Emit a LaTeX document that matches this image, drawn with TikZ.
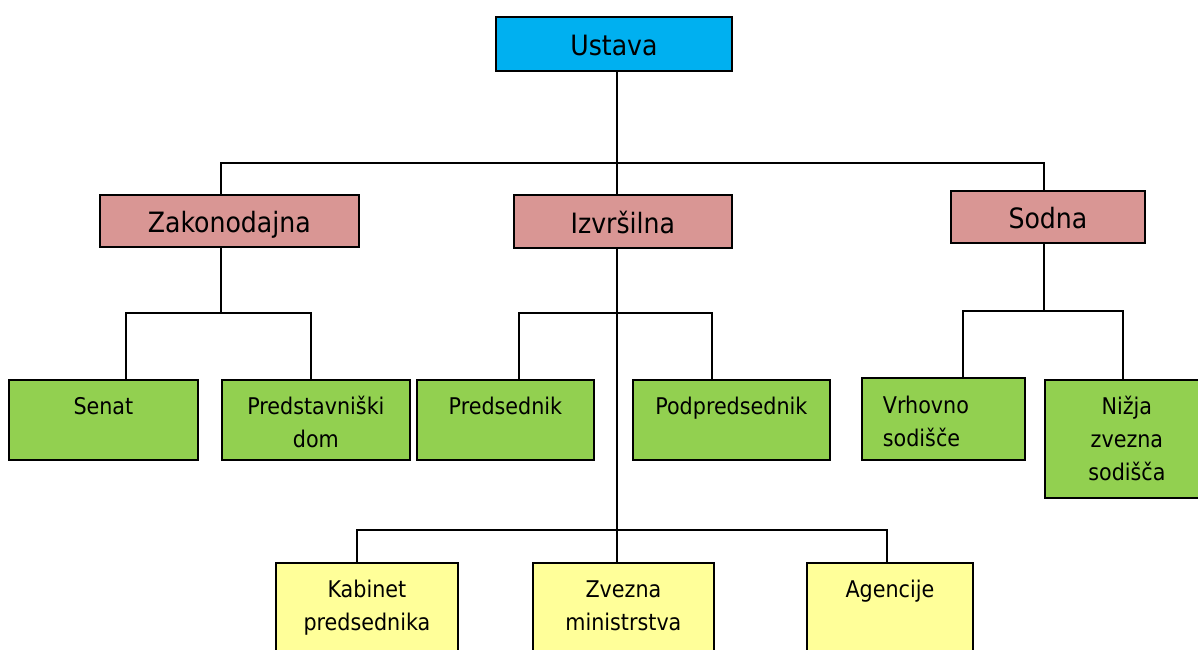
\documentclass[tikz,border=0pt]{standalone}
\usepackage{fontspec}
\setmainfont{DejaVu Sans Condensed}
\usetikzlibrary{positioning}
\definecolor{ustavablue}{HTML}{00B0F0}
\definecolor{branchpink}{HTML}{D99694}
\definecolor{leafgreen}{HTML}{92D050}
\definecolor{leafyellow}{HTML}{FFFF99}
\begin{document}
\begin{tikzpicture}[x=1pt, y=-1pt, line width=1.8pt,
    box/.style = {rectangle, draw, inner sep=0pt, anchor=north west},
    head/.style = {box, font=\fontsize{28}{34}\selectfont, text height=24pt, text depth=0pt},
    leaf/.style = {box, fill=leafgreen},
    sub/.style = {box, fill=leafyellow},
    txt/.style = {inner sep=0pt, align=center, font=\fontsize{23}{33}\selectfont}]
    \useasboundingbox (0,0) rectangle (1198,649);
    \clip (0,0) rectangle (1198,649);

    \node[head, fill=ustavablue, minimum width=236pt, minimum height=54pt] (1) at (495,16) {Ustava};
    \node[head, fill=branchpink, minimum width=259pt, minimum height=52pt] (2) at (99,194) {Zakonodajna};
    \node[head, fill=branchpink, minimum width=218pt, minimum height=53pt] (3) at (513,194) {Izvršilna};
    \node[head, fill=branchpink, minimum width=194pt, minimum height=52pt] (4) at (950,190) {Sodna};

    \node[leaf, minimum width=189pt, minimum height=80pt] (5) at (8,379) {};
    \node[leaf, minimum width=188pt, minimum height=80pt] (6) at (221,379) {};
    \node[leaf, minimum width=177pt, minimum height=80pt] (7) at (416,379) {};
    \node[leaf, minimum width=197pt, minimum height=80pt] (8) at (632,379) {};
    \node[leaf, minimum width=163pt, minimum height=82pt] (9) at (861,377) {};
    \node[leaf, minimum width=164pt, minimum height=118pt] (10) at (1044,379) {};
    \node[sub, minimum width=182pt, minimum height=120pt] (11) at (275,562) {};
    \node[sub, minimum width=181pt, minimum height=120pt] (12) at (532,562) {};
    \node[sub, minimum width=166pt, minimum height=120pt] (13) at (806,562) {};

    \node[txt, below=11.9pt of 5.north] (t5) {\strut Senat};
    \node[txt, below=11.9pt of 6.north] (t6) {\strut Predstavniški\\dom};
    \node[txt, below=11.9pt of 7.north] (t7) {\strut Predsednik};
    \node[txt, below=11.9pt of 8.north] (t8) {\strut Podpredsednik};
    \node[txt, align=left, below right=12.9pt and 21pt of 9.north west] (t9) {\strut Vrhovno\\sodišče};
    \node[txt, below=11.9pt of 10.north] (t10) {\strut Nižja\\zvezna\\sodišča};
    \node[txt, below=11.9pt of 11.north] (t11) {\strut Kabinet\\predsednika};
    \node[txt, below=11.9pt of 12.north] (t12) {\strut Zvezna\\ministrstva};
    \node[txt, below=11.9pt of 13.north] (t13) {\strut Agencije};

    % joints on the buses
    \coordinate (a2) at (221,163);
    \coordinate (a3) at (617,163);
    \coordinate (a4) at (1044,163);
    \coordinate (a5) at (126,313);
    \coordinate (a6) at (311,313);
    \coordinate (a7) at (519,313);
    \coordinate (a8) at (712,313);
    \coordinate (a9) at (963,311);
    \coordinate (a10) at (1123,311);
    \coordinate (a11) at (357,530);
    \coordinate (a13) at (887,530);

    \draw (1.south -| a3) |- (a2) -- (2.north -| a2);
    \draw (1.south -| a3) -- (3.north -| a3);
    \draw (1.south -| a3) |- (a4) -- (4.north -| a4);

    \draw (2.south -| a2) |- (a5) -- (5.north -| a5);
    \draw (2.south -| a2) |- (a6) -- (6.north -| a6);

    \draw (3.south -| a3) |- (a7) -- (7.north -| a7);
    \draw (3.south -| a3) |- (a8) -- (8.north -| a8);
    \draw (3.south -| a3) -- (12.north -| a3);
    \draw (11.north -| a11) |- (a13) -- (13.north -| a13);

    \draw (4.south -| a4) |- (a9) -- (9.north -| a9);
    \draw (4.south -| a4) |- (a10) -- (10.north -| a10);
\end{tikzpicture}
\end{document}
